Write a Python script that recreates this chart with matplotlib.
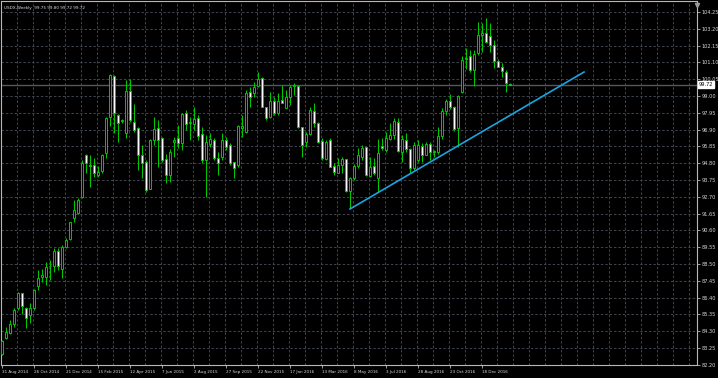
import numpy as np
import pandas as pd
import matplotlib
matplotlib.use("Agg")
import matplotlib.pyplot as plt
import matplotlib.transforms as mtransforms

# ---------------- data ----------------
symbol_title = "USDX,Weekly  99.75 99.80 99.72 99.72"
start_date = "2014-08-31"

opens = [82.85, 83.85, 84.21, 84.75, 85.73, 86.67, 85.73, 85.30, 85.73, 87.10,
         87.70, 87.70, 88.36, 88.40, 89.30, 88.20, 89.58, 90.05, 91.40, 91.70,
         92.70, 95.30, 94.70, 94.70, 94.06, 94.30, 95.46, 97.70, 100.25, 97.80,
         97.45, 96.67, 99.33, 97.40, 96.98, 95.30, 94.90, 93.20, 96.25, 97.02,
         96.40, 95.06, 94.06, 96.10, 96.40, 96.04, 97.92, 97.30, 97.23, 97.60,
         96.625, 95.00, 95.98, 96.25, 95.15, 95.20, 96.25, 95.94, 94.85, 94.69,
         97.00, 96.77, 99.23, 99.17, 99.625, 100.10, 98.33, 97.70, 98.70, 97.92,
         98.75, 98.23, 98.92, 99.60, 99.625, 97.08, 96.15, 96.625, 98.08, 97.33,
         96.19, 95.04, 96.25, 94.625, 94.20, 94.69, 95.04, 93.06, 93.85, 94.60,
         95.20, 95.79, 94.00, 94.625, 93.85, 95.90, 95.63, 96.29, 96.55, 97.40,
         95.50, 96.25, 95.67, 94.48, 95.00, 95.875, 95.31, 96.00, 95.52, 95.52,
         96.50, 98.06, 98.71, 98.29, 97.00, 99.27, 101.30, 101.50, 100.625, 101.67,
         102.81, 102.96, 102.75, 102.19, 101.20, 100.80, 100.52, 99.75]
highs = [83.75, 84.54, 85.00, 85.73, 86.77, 86.70, 85.83, 86.04, 86.92, 88.10,
         88.20, 88.65, 88.75, 89.50, 89.48, 89.70, 90.10, 91.15, 92.50, 92.60,
         95.00, 95.40, 95.30, 95.10, 94.60, 95.40, 97.70, 100.40, 100.30, 97.90,
         97.55, 100.00, 100.04, 98.50, 97.08, 95.94, 95.00, 96.30, 97.70, 97.50,
         96.46, 95.40, 95.67, 96.46, 97.19, 97.92, 98.125, 97.70, 98.33, 97.80,
         97.08, 96.56, 96.67, 96.35, 95.52, 96.67, 96.42, 96.04, 94.90, 97.19,
         97.80, 99.375, 99.58, 99.90, 100.52, 100.20, 98.33, 99.27, 98.96, 99.17,
         99.69, 99.375, 99.69, 99.80, 99.69, 97.08, 96.77, 98.33, 98.58, 97.40,
         96.35, 96.25, 96.35, 94.79, 95.10, 95.20, 95.06, 93.96, 94.75, 95.73,
         95.94, 95.79, 95.20, 95.10, 96.30, 96.40, 96.77, 97.30, 97.60, 97.60,
         96.56, 96.67, 95.73, 96.15, 96.25, 96.04, 96.15, 96.15, 95.60, 97.08,
         98.23, 98.80, 99.10, 98.40, 99.06, 101.50, 102.00, 101.875, 101.875, 103.65,
         103.54, 103.85, 103.54, 102.50, 101.30, 101.04, 100.60, 99.80]
lows = [82.80, 83.79, 84.10, 84.58, 85.60, 85.40, 84.48, 84.80, 85.60, 86.90,
        87.40, 87.20, 87.50, 88.00, 88.10, 87.60, 89.50, 90.00, 91.15, 91.60,
        92.60, 94.20, 93.30, 93.95, 93.95, 94.20, 95.10, 97.10, 96.67, 96.15,
        97.30, 96.35, 97.40, 96.77, 94.40, 93.85, 93.02, 93.20, 95.94, 94.58,
        94.90, 93.54, 93.65, 95.20, 95.73, 95.60, 96.875, 96.25, 96.875, 96.25,
        94.80, 92.70, 95.83, 95.00, 94.06, 95.00, 95.60, 94.69, 93.85, 94.58,
        96.46, 96.67, 98.33, 98.96, 99.58, 98.33, 97.50, 97.60, 97.80, 97.80,
        98.54, 98.23, 98.44, 99.06, 96.98, 95.20, 95.83, 96.56, 97.08, 96.04,
        95.00, 95.00, 94.58, 94.06, 94.17, 94.17, 93.02, 91.98, 93.75, 94.48,
        95.00, 94.00, 93.96, 94.06, 93.02, 95.60, 95.52, 96.25, 96.30, 95.50,
        94.90, 95.50, 94.17, 94.40, 94.90, 94.90, 95.30, 95.00, 95.20, 95.40,
        96.30, 97.80, 98.20, 96.80, 95.83, 99.20, 100.70, 100.52, 99.60, 101.56,
        101.77, 102.30, 101.77, 100.73, 100.80, 100.20, 99.27, 99.72]
closes = [83.70, 84.27, 84.73, 85.60, 86.67, 85.90, 85.10, 85.73, 86.875, 87.60,
          87.80, 88.33, 88.40, 89.30, 88.35, 89.58, 90.00, 91.10, 91.90, 92.50,
          94.80, 94.80, 94.65, 94.20, 94.25, 95.30, 97.60, 100.30, 97.95, 97.30,
          97.45, 99.30, 97.50, 96.90, 95.30, 94.80, 93.10, 96.25, 96.94, 96.25,
          95.00, 94.06, 95.48, 96.25, 96.04, 97.875, 97.23, 97.35, 97.54, 96.50,
          95.00, 96.10, 96.30, 95.15, 94.83, 96.25, 95.80, 94.79, 94.52, 97.15,
          97.10, 99.20, 98.96, 99.58, 100.04, 98.33, 97.60, 98.70, 97.96, 98.70,
          98.54, 98.96, 99.58, 99.69, 97.08, 95.94, 96.625, 98.125, 97.33, 96.15,
          95.10, 96.15, 94.58, 94.27, 94.69, 95.06, 93.06, 93.85, 94.625, 95.30,
          95.73, 94.06, 94.58, 94.17, 95.46, 95.75, 96.35, 96.56, 97.45, 95.58,
          96.29, 95.67, 94.48, 95.94, 95.94, 95.31, 95.98, 95.48, 95.52, 96.50,
          98.06, 98.69, 98.29, 96.94, 99.00, 101.25, 101.40, 100.625, 101.60, 102.81,
          102.96, 102.40, 102.19, 101.20, 100.83, 100.58, 99.79, 99.72]

price_ticks = [82.20, 83.25, 84.30, 85.35, 86.40, 87.45, 88.50, 89.55, 90.60, 91.65,
               92.70, 93.75, 94.80, 95.85, 96.90, 97.95, 99.00, 100.05, 101.10,
               102.15, 103.20, 104.25]
current_price = 99.72

trend_index = [87, 145.5]
trend_prices = [91.94, 100.50]

# ---------------- figure ----------------
W, H = 718, 378
fig = plt.figure(figsize=(W / 100, H / 100), dpi=100, facecolor="black")
ax = fig.add_axes([1 / W, 13 / H, 696 / W, 364 / H], facecolor="black")

n = len(opens)
dates = pd.date_range(start_date, periods=n, freq="7D")
idx = np.arange(n)
o = np.array(opens); h = np.array(highs); l = np.array(lows); c = np.array(closes)

ax.set_xlim(-0.25, 173.75)
ax.set_ylim(82.19, 104.94)

grid_col = "#3f464f"
for p in price_ticks:
    ax.axhline(p, color=grid_col, lw=0.7, ls=(0, (2.5, 2)), zorder=0)
for xv in np.arange(-0.25, 174, 4):
    ax.axvline(xv, color=grid_col, lw=0.7, ls=(0, (2.5, 2)), zorder=0)

# current price line
ax.axhline(current_price, color="#54575c", lw=1.0, zorder=1)

edge = "#00c800"
ax.vlines(idx, l, h, color=edge, lw=0.75, zorder=2)
bull = c >= o
body_bottom = np.minimum(o, c)
body_h = np.maximum(np.abs(c - o), 0.03)
ax.bar(idx[bull], body_h[bull], bottom=body_bottom[bull], width=0.62,
       facecolor="black", edgecolor=edge, linewidth=0.7, zorder=3)
ax.bar(idx[~bull], body_h[~bull], bottom=body_bottom[~bull], width=0.62,
       facecolor="white", edgecolor=edge, linewidth=0.7, zorder=3)

# trend line
ax.plot(trend_index, trend_prices, color="#1ca3e0", lw=1.2, zorder=4)

for s in ax.spines.values():
    s.set_color("#b8b8b8")
    s.set_linewidth(0.8)

ax.yaxis.tick_right()
ax.set_yticks(price_ticks)
ax.set_yticklabels([f"{p:.2f}" for p in price_ticks])
ax.tick_params(axis="y", colors="#b8b8b8", length=2, width=0.6, pad=1.5,
               labelsize=3.6, labelcolor="#d8d8d8")

xt = idx[::8]
ax.set_xticks(xt)
ax.set_xticklabels([f"{d.day} {d.strftime('%b %Y')}" for d in dates[::8]],
                   ha="left")
ax.tick_params(axis="x", colors="#b8b8b8", length=2, width=0.6, pad=1.5,
               labelsize=3.0, labelcolor="#d8d8d8")

ax.text(0.004, 0.985, symbol_title, transform=ax.transAxes, color="#e0e0e0",
        fontsize=3.0, va="top", ha="left")

tr = mtransforms.blended_transform_factory(ax.transAxes, ax.transData)
ax.text(1.003, current_price, f"{current_price:.2f}", transform=tr, fontsize=3.6,
        color="black", va="center", ha="left",
        bbox=dict(boxstyle="square,pad=0.15", facecolor="white", edgecolor="white"),
        zorder=6, clip_on=False)

# chart-shift marker at top right
ax.plot([1.0], [0.99], marker="v", markersize=3, color="#9a9a9a",
        transform=ax.transAxes, clip_on=False, zorder=6)

fig.savefig("out.png", dpi=100, facecolor="black")
